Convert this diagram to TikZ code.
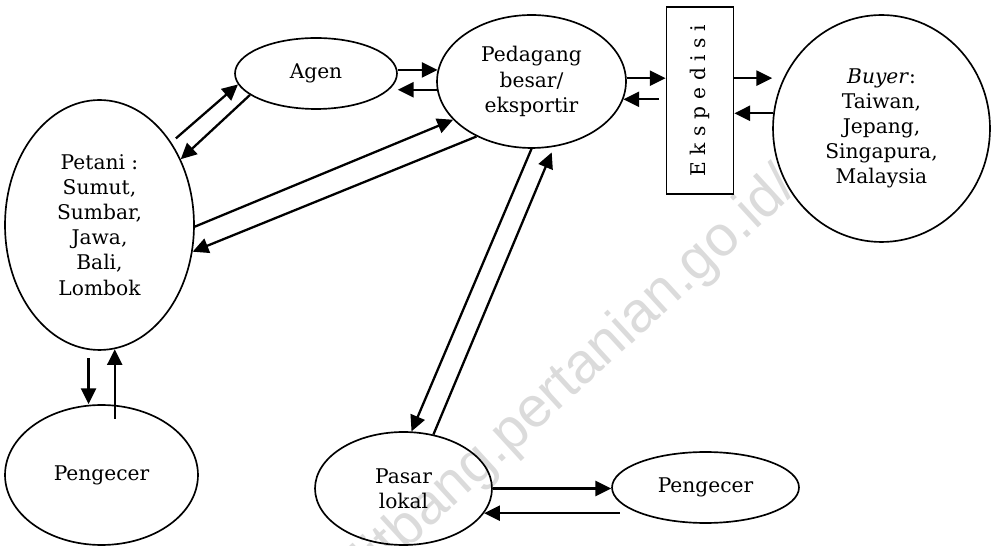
\documentclass[tikz,border=0pt]{standalone}
\usepackage{fontspec}
\usepackage{graphicx}
\setmainfont{DejaVu Serif}
\newfontfamily\wmfont{Liberation Sans}
\usetikzlibrary{arrows.meta,shapes.geometric}

\begin{document}
\begin{tikzpicture}[x=0.02cm, y=-0.02cm,
  every node/.style={font=\fontsize{11.5}{14.3}\selectfont, align=center, inner sep=0pt},
  oval/.style={ellipse, draw, line width=0.95pt},
  boxnode/.style={rectangle, draw, line width=1pt},
  arr/.style={-{Triangle[length=9pt,width=8.6pt]}, line width=1.3pt},
  watermark/.style={text=black!14, font=\wmfont\fontsize{32.4}{32.4}\selectfont}
]
\useasboundingbox (0,0) rectangle (993,546);

% faint site stamp behind the chart
\begin{scope}
  \clip (0,0) rectangle (993,546);
  \node[watermark, rotate=42.5] (wm) at (554,395) {balitbang.pertanian.go.id/};
\end{scope}

% actors
\node[oval, minimum width=3.78cm, minimum height=5cm] (petani) at (99.5,225)
  {Petani :\\Sumut,\\Sumbar,\\Jawa,\\Bali,\\Lombok};
\node[oval, minimum width=3.86cm, minimum height=2.8cm] (pengL) at (101.5,475) {Pengecer};
\node[oval, minimum width=3.24cm, minimum height=1.42cm] (agen) at (316,73.5) {Agen};
\node[oval, minimum width=3.78cm, minimum height=2.66cm] (ped) at (531.5,81.5)
  {Pedagang\\besar/\\eksportir};
\node[boxnode, minimum width=1.34cm, minimum height=3.74cm] (eksp) at (700,100.5)
  {\rotatebox{90}{E\kern3.8pt k\kern3.8pt s\kern3.8pt p\kern3.8pt e\kern3.8pt d\kern3.8pt i\kern3.8pt s\kern3.8pt i}};
\node[oval, minimum width=4.34cm, minimum height=4.54cm] (buyer) at (881.5,128.5)
  {\textit{Buyer}:\\Taiwan,\\Jepang,\\Singapura,\\Malaysia};
\node[oval, minimum width=3.54cm, minimum height=2.26cm] (pasar) at (403.5,488.5) {Pasar\\lokal};
\node[oval, minimum width=3.74cm, minimum height=1.42cm] (pengR) at (705.5,487.5) {Pengecer};

% flows between petani, agen and pedagang besar
\draw[arr, shorten <=0.12cm] (petani.49.7) -- (agen.188.7);
\draw[arr] (agen.198.6) -- (petani.39);
\draw[arr] (ped.173 -| agen.east) -- (ped.173);
\draw[arr] (ped.185.2) -- (ped.185.2 -| agen.east);
\draw[arr] (petani.-1.8) -- (ped.206.1);
\draw[arr] (ped.225.5) -- (petani.-16.3);

% pedagang besar and pasar lokal
\draw[arr] (ped.south) -- (pasar.82.9);
\draw[arr, shorten >=0.12cm] (pasar.61.2) -- (ped.-71.1);

% petani and pengecer
\draw[arr, shorten <=0.17cm] (petani.-95.4) -- (petani.-95.4 |- pengL.north);
\draw[arr, shorten <=-0.295cm] (petani.-83.3 |- pengL.north) -- (petani.-83.3);

% export route
\draw[arr] (ped.2) -- (ped.2 -| eksp.west);
\draw[arr, shorten <=0.14cm] (ped.-11.4 -| eksp.west) -- (ped.-11.4);
\draw[arr] (ped.2 -| eksp.east) -- (ped.2 -| buyer.west);
\draw[arr] (buyer.172.3) -- (buyer.172.3 -| eksp.east);

% pasar lokal and pengecer
\draw[arr] (pasar.east) -- (pasar.east -| pengR.west);
\draw[arr, shorten <=-0.175cm] (pasar.-17.3 -| pengR.west) -- (pasar.-17.3);
\end{tikzpicture}
\end{document}
